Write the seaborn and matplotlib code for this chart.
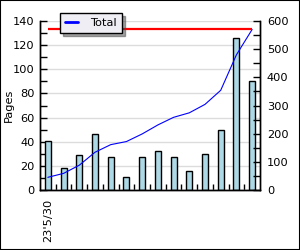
import matplotlib
matplotlib.use("Agg")
import matplotlib.pyplot as plt
import seaborn as sns
import pandas as pd
import numpy as np
from matplotlib.patches import Rectangle
from matplotlib.lines import Line2D
from matplotlib.ticker import MultipleLocator, FixedLocator

# ---- data ----
days = ["5/30", "5/31", "6/1", "6/2", "6/3", "6/4", "6/5",
        "6/6", "6/7", "6/8", "6/9", "6/10", "6/11", "6/12"]
pages = [41, 18, 29, 46, 27, 11, 27, 32, 27, 16, 30, 50, 126, 90]
total = [45, 59, 88, 134, 161, 172, 199, 231, 258, 274, 304, 354, 480, 570]
grand_total = 570
shown_tick_label = "23'5/30"
series_name = "Total"
y_label = "Pages"

sns.set_theme(style="white")
plt.rcParams['font.family'] = ['DejaVu Sans']
FS = 8.2

fig = plt.figure(figsize=(3, 2.5), dpi=100, facecolor="white")
ax = fig.add_axes([40 / 300, 60 / 250, 220 / 300, 169 / 250])
ax.set_facecolor("white")

df = pd.DataFrame({"day": days, "pages": pages, "total": total})

sns.barplot(data=df, x="day", y="pages", color="#add8e6", edgecolor="black",
            linewidth=1, width=0.38, saturation=1, ax=ax, zorder=2)

ax.set_xlim(-0.5, len(days) - 0.5)
ax.set_ylim(0, 140)
ax.yaxis.set_major_locator(MultipleLocator(20))
ax.yaxis.set_minor_locator(MultipleLocator(10))
ax.set_axisbelow(True)
ax.yaxis.grid(True, which="major", color="#dcdcdc", linewidth=1)
ax.xaxis.grid(False)

ax.set_xticks([0])
ax.set_xticklabels([shown_tick_label], rotation=90, fontsize=FS)
ax.xaxis.set_minor_locator(FixedLocator(np.arange(0.5, len(days) - 1, 1)))
ax.tick_params(axis="x", which="major", length=0, pad=6, colors="black")
ax.tick_params(axis="x", which="minor", direction="in", length=4, width=1,
               color="black", bottom=True)
ax.tick_params(axis="y", which="both", direction="in", length=5, width=1,
               color="black", left=True, labelsize=FS, labelcolor="black", pad=4)
ax.set_xlabel("")
ax.set_ylabel(y_label, fontsize=FS, color="black")
ax.yaxis.set_label_coords(-0.118, 0.5)

for s in ["left", "bottom", "right"]:
    ax.spines[s].set_color("black")
    ax.spines[s].set_linewidth(1)
ax.spines["top"].set_visible(False)

ax2 = ax.twinx()
sns.lineplot(x=df.index, y=df["total"], color="#0000ff", linewidth=0.8, ax=ax2,
             zorder=3)
ax2.hlines(grand_total, df.index[0], df.index[-1], color="#ff0000", linewidth=1.6,
           zorder=3)
ax2.set_ylim(0, 600)
ax2.yaxis.set_major_locator(MultipleLocator(100))
ax2.yaxis.set_minor_locator(MultipleLocator(50))
ax2.tick_params(axis="y", which="both", direction="in", length=5, width=1,
                color="black", right=True, labelsize=FS, labelcolor="black", pad=5)
ax2.set_ylabel("")
ax2.spines["top"].set_visible(False)
for s in ["left", "bottom", "right"]:
    ax2.spines[s].set_color("black")
    ax2.spines[s].set_linewidth(1)

handle = Line2D([], [], color="#0000ff", linewidth=2)
leg = ax2.legend(handles=[handle], labels=[series_name], loc="upper left",
                 bbox_to_anchor=(60 / 300, 1 - 13 / 250),
                 bbox_transform=fig.transFigure, fontsize=FS, frameon=True,
                 fancybox=False, shadow=True, framealpha=1, handlelength=1.1,
                 borderpad=0.45, handletextpad=1.1, borderaxespad=0)
leg.get_frame().set_facecolor("#eeeef4")
leg.get_frame().set_edgecolor("black")
leg.get_frame().set_linewidth(1)
for t in leg.get_texts():
    t.set_color("black")

fig.patches.append(Rectangle((0, 0), 1, 1, transform=fig.transFigure, fill=False,
                             edgecolor="black", linewidth=1.5))

fig.savefig("out.png", dpi=100, facecolor="white")
